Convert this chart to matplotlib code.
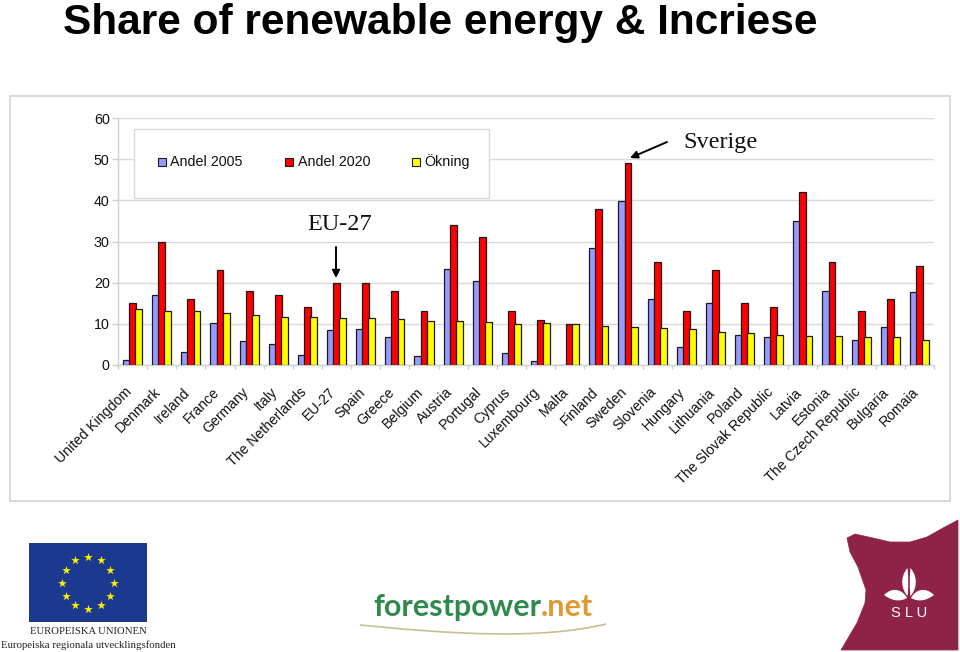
import numpy as np
import matplotlib
matplotlib.use("Agg")
import matplotlib.pyplot as plt
from matplotlib.patches import Rectangle, PathPatch, FancyArrowPatch
from matplotlib.path import Path

countries = ["United Kingdom", "Denmark", "Ireland", "France", "Germany", "Italy",
             "The Netherlands", "EU-27", "Spain", "Greece", "Belgium", "Austria",
             "Portugal", "Cyprus", "Luxembourg", "Malta", "Finland", "Sweden",
             "Slovenia", "Hungary", "Lithuania", "Poland", "The Slovak Republic",
             "Latvia", "Estonia", "The Czech Republic", "Bulgaria", "Romaia"]
andel_2005 = [1.3, 17, 3.1, 10.3, 5.8, 5.2, 2.4, 8.5, 8.7, 6.9, 2.2, 23.3, 20.5, 2.9,
              0.9, 0, 28.5, 39.8, 16, 4.3, 15, 7.2, 6.7, 34.9, 18, 6.1, 9.2, 17.8]
andel_2020 = [15, 30, 16, 23, 18, 17, 14, 20, 20, 18, 13, 34, 31, 13,
              11, 10, 38, 49, 25, 13, 23, 15, 14, 42, 25, 13, 16, 24]
okning = [13.7, 13, 13, 12.7, 12.2, 11.6, 11.6, 11.5, 11.3, 11.1, 10.8, 10.6, 10.5, 10,
          10.1, 10, 9.5, 9.2, 9, 8.7, 8, 7.8, 7.3, 7.1, 7, 6.9, 6.7, 6.1]
series_names = ["Andel 2005", "Andel 2020", "Ökning"]
y_ticks = [0, 10, 20, 30, 40, 50, 60]

W, H = 960, 652
fig = plt.figure(figsize=(W / 100, H / 100), dpi=100, facecolor="white")
sans = "Liberation Sans"
serif = "Liberation Serif"

bg = fig.add_axes([0, 0, 1, 1], zorder=0)
bg.set_xlim(0, W); bg.set_ylim(H, 0); bg.axis("off")
bg.add_patch(Rectangle((9.5, 95.5), 940.5, 405.5, fc="white", ec="#d0d0d0", lw=1.1))

L, R, T, B = 118, 934, 118, 365
ax = fig.add_axes([L / W, (H - B) / H, (R - L) / W, (B - T) / H], zorder=1)
ax.patch.set_alpha(0)
x = np.arange(len(countries))
bw = 0.235
colors = ["#9999FF", "#FF0000", "#FFFF00"]
for off, vals, c, n in zip((-bw * 0.9, 0, bw * 0.9), (andel_2005, andel_2020, okning), colors, series_names):
    ax.bar(x + off, vals, bw, color=c, edgecolor="#1a1a1a", linewidth=0.9, label=n, zorder=3)
ax.set_xlim(-0.5, len(countries) - 0.5)
ax.set_ylim(0, 60)
ax.set_yticks(y_ticks)
ax.grid(axis="y", color="#dadada", lw=1.0, zorder=0)
ax.set_axisbelow(True)
for s in ("top", "right"):
    ax.spines[s].set_visible(False)
for s in ("left", "bottom"):
    ax.spines[s].set_color("#d0d0d0")
    ax.spines[s].set_linewidth(1.0)
ax.set_xticks(np.arange(len(countries) + 1) - 0.5)
ax.set_xticklabels([])
ax.tick_params(axis="x", length=3, color="#d0d0d0", width=1)
ax.tick_params(axis="y", length=4, color="#d0d0d0", width=1, labelsize=10.3, pad=2)
for t in ax.get_yticklabels():
    t.set_fontfamily(sans)
    t.set_color("#111111")

ov = fig.add_axes([0, 0, 1, 1], zorder=2)
ov.set_xlim(0, W); ov.set_ylim(H, 0); ov.axis("off"); ov.patch.set_alpha(0)

for xi, name in zip(x, countries):
    ov.text(L + (xi + 0.5) * (R - L) / len(countries) - 8, 385, name, rotation=45,
            rotation_mode="anchor", ha="right", va="top", fontsize=10.2,
            family=sans, color="#111111")

ov.text(440.5, 34, "Share of renewable energy & Incriese", ha="center", va="baseline",
        fontsize=30.5, fontweight="bold", family=sans, color="black")

ov.add_patch(Rectangle((134, 128.5), 355, 69, fc="white", ec="#dadada", lw=1.0))
for px, c, n in zip((158, 285, 412), colors, series_names):
    ov.add_patch(Rectangle((px, 157.5), 8, 8, fc=c, ec="#1a1a1a", lw=0.8))
    ov.text(px + 12.5, 162, n, ha="left", va="center", fontsize=10.3, family=sans, color="#111111")

ov.text(340, 224, "EU-27", ha="center", va="center", fontsize=17.5, family=serif, color="#111111")
ov.text(720.5, 142.5, "Sverige", ha="center", va="center", fontsize=17.5, family=serif, color="#111111")
for a, b in (((336, 247), (336, 278)), ((667, 142), (630, 158))):
    ov.add_patch(FancyArrowPatch(a, b, arrowstyle="-|>", mutation_scale=11, color="black", lw=1.4,
                                 shrinkA=0, shrinkB=0))

ov.add_patch(Rectangle((29, 543), 117.5, 79, fc="#1B3A8F", ec="none"))
ang = np.deg2rad(np.arange(0, 360, 30))
ov.scatter(88 + 25.7 * np.cos(ang), 582.5 + 26 * np.sin(ang), marker="*", s=42, c="#FFF200", lw=0)
ov.text(88, 632, "EUROPEISKA UNIONEN", ha="center", va="center", fontsize=7.7, family=serif, color="#222222")
ov.text(88, 645, "Europeiska regionala utvecklingsfonden", ha="center", va="center", fontsize=7.75, family=serif, color="#222222")

t1 = ov.text(373, 607, "forestpower", ha="left", va="center", fontsize=22, fontweight="bold", family="Lato", color="#2F8A4C")
fig.canvas.draw()
bb = t1.get_window_extent()
ov.text(bb.x1, 607, ".net", ha="left", va="center", fontsize=22, fontweight="bold", family="Lato", color="#E0982F")
ov.add_patch(PathPatch(Path([(360, 625), (450, 634), (540, 640), (606, 624)],
                            [Path.MOVETO, Path.CURVE4, Path.CURVE4, Path.CURVE4]),
                       fc="none", ec="#C9BE8E", lw=1.2))

verts = [(847, 538), (855, 534), (873, 538), (890, 542), (910, 542), (927, 537), (943, 528), (958, 520),
         (958, 650), (841, 650), (857, 623), (865, 603), (866, 590), (858, 567), (850, 552), (847, 538)]
codes = [Path.MOVETO] + [Path.LINETO] * (len(verts) - 2) + [Path.CLOSEPOLY]
ov.add_patch(PathPatch(Path(verts, codes), fc="#8E2347", ec="#8E2347", lw=0.5, joinstyle="round"))
leaves = [[(907.5, 568), (899, 578), (902, 590), (907.5, 596), (908.5, 590), (908.5, 578), (907.5, 568)],
          [(910.5, 568), (919, 578), (916, 590), (910.5, 596), (909.5, 590), (909.5, 578), (910.5, 568)],
          [(884, 595), (893, 586), (903, 590), (907, 598), (900, 602), (892, 601), (884, 595)],
          [(934, 595), (925, 586), (915, 590), (911, 598), (918, 602), (926, 601), (934, 595)]]
for v in leaves:
    c = [Path.MOVETO] + [Path.CURVE4] * 6
    ov.add_patch(PathPatch(Path(v, c), fc="white", ec="none"))
ov.text(909, 613, "S L U", ha="center", va="center", fontsize=10.5, family=sans, color="white")

fig.savefig("out.png", dpi=100)
